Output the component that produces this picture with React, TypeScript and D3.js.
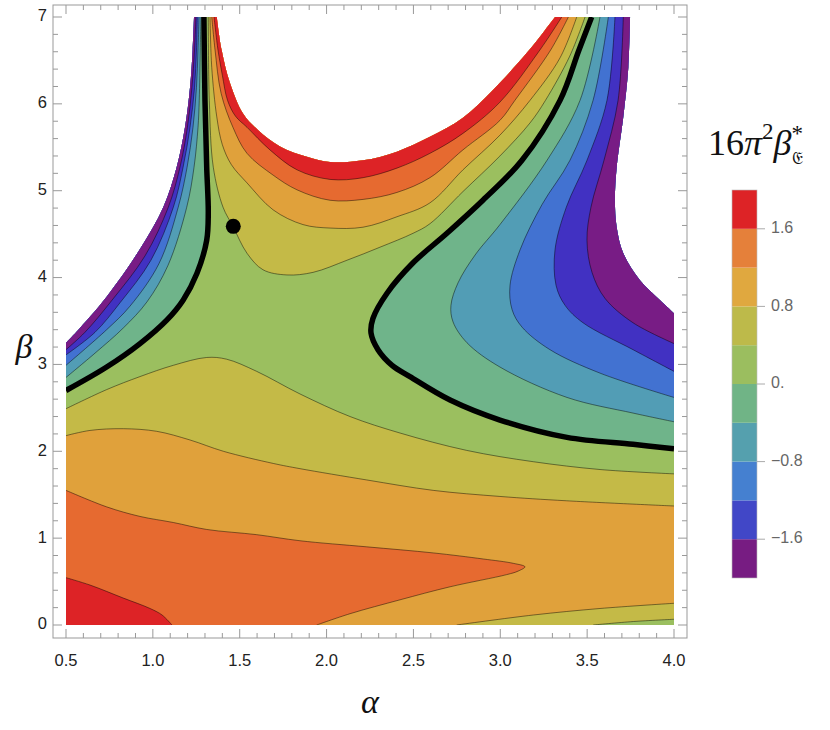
import React from 'react';
import * as d3 from 'd3';

type P = [number, number];

// ---------- axis / legend data ----------
const alphaDomain: P = [0.5, 4.0];
const betaDomain: P = [0, 7];
const alphaTicks = [0.5, 1.0, 1.5, 2.0, 2.5, 3.0, 3.5, 4.0];
const betaTicks = [0, 1, 2, 3, 4, 5, 6, 7];
const legendLevels = [-2.0, 2.0];
const legendTicks = [1.6, 0.8, 0, -0.8, -1.6];
const legendTickLabels = ['1.6', '0.8', '0.', '\u22120.8', '\u22121.6'];
// bands from lowest (-2..-1.6) to highest (1.6..2)
const bandColors = ['#781C85', '#4131C2', '#4272D1', '#529DB5', '#6FB48A', '#9BBF5F', '#C4BA47', '#E0A13B', '#E66A30', '#DD2326'];
const legendColors = ['#771C82', '#4147C7', '#4580D0', '#55A0AE', '#70B486', '#9BBE5F', '#BDBA4A', '#E0A83F', '#E5803A', '#DD2326'];

// ---------- domain boundaries (alpha, beta) ----------
const leftBoundary: P[] = [[0.5, 3.25], [0.562, 3.38], [0.734, 3.78], [0.926, 4.33], [1.06, 4.81], [1.137, 5.27], [1.185, 5.73], [1.214, 6.19], [1.229, 6.62], [1.237, 7.0]];
const topBoundary: P[] = [[1.368, 7.0], [1.396, 6.62], [1.444, 6.24], [1.519, 5.89], [1.605, 5.7], [1.732, 5.51], [1.887, 5.39], [2.02, 5.33], [2.21, 5.35], [2.405, 5.45], [2.595, 5.62], [2.785, 5.84], [2.958, 6.16], [3.154, 6.59], [3.246, 6.82], [3.315, 7.0]];
const rightBoundary: P[] = [[3.747, 7.0], [3.737, 6.42], [3.708, 5.85], [3.67, 5.27], [3.66, 4.89], [3.67, 4.58], [3.708, 4.28], [3.804, 3.97], [3.92, 3.74], [4.0, 3.59]];

// ---------- contour lines ----------
// left strip (from alpha = 0.5 edge up to beta = 7)
const left0: P[] = [[0.5, 2.7], [0.734, 2.97], [0.926, 3.24], [1.08, 3.51], [1.174, 3.74], [1.254, 4.05], [1.31, 4.43], [1.319, 4.74], [1.31, 5.27], [1.3, 6.04], [1.294, 7.0]];
const leftM04: P[] = [[0.5, 2.85], [0.667, 3.13], [0.83, 3.42], [0.966, 3.72], [1.087, 4.14], [1.195, 4.81], [1.237, 5.27], [1.26, 5.73], [1.267, 6.04], [1.273, 6.62], [1.277, 7.0]];
const leftM08: P[] = [[0.5, 2.99], [0.734, 3.4], [0.868, 3.67], [1.035, 4.16], [1.146, 4.81], [1.197, 5.27], [1.231, 5.73], [1.251, 6.19], [1.26, 6.62], [1.266, 7.0]];
const leftM12: P[] = [[0.5, 3.11], [0.667, 3.37], [0.811, 3.71], [0.989, 4.2], [1.118, 4.81], [1.174, 5.27], [1.214, 5.73], [1.24, 6.19], [1.251, 6.62], [1.256, 7.0]];
const leftM16: P[] = [[0.5, 3.17], [0.609, 3.37], [0.765, 3.74], [0.955, 4.25], [1.089, 4.81], [1.156, 5.27], [1.199, 5.73], [1.225, 6.19], [1.24, 6.62], [1.248, 7.0]];
// right lobe (from beta = 7 down to alpha = 4 edge)
const right0: P[] = [[3.526, 7.0], [3.453, 6.62], [3.344, 6.04], [3.125, 5.35], [2.9, 4.89], [2.693, 4.51], [2.498, 4.17], [2.348, 3.82], [2.267, 3.53], [2.256, 3.36], [2.296, 3.17], [2.377, 2.99], [2.48, 2.86], [2.711, 2.59], [2.998, 2.36], [3.384, 2.16], [3.764, 2.08], [4.0, 2.03]];
const rightM04: P[] = [[3.574, 7.0], [3.459, 6.04], [3.269, 5.35], [2.998, 4.61], [2.855, 4.26], [2.757, 3.94], [2.716, 3.68], [2.728, 3.49], [2.808, 3.25], [2.998, 2.97], [3.384, 2.62], [3.764, 2.44], [4.0, 2.34]];
const rightM08: P[] = [[3.622, 7.0], [3.534, 6.04], [3.401, 5.35], [3.24, 4.84], [3.114, 4.32], [3.056, 3.91], [3.068, 3.63], [3.125, 3.43], [3.286, 3.17], [3.574, 2.9], [4.0, 2.62]];
const rightM12: P[] = [[3.66, 7.0], [3.614, 6.04], [3.499, 5.35], [3.38, 4.81], [3.315, 4.32], [3.321, 3.91], [3.373, 3.68], [3.476, 3.48], [3.764, 3.17], [4.0, 2.92]];
const rightM16: P[] = [[3.708, 7.0], [3.678, 6.04], [3.597, 5.35], [3.522, 4.81], [3.499, 4.43], [3.528, 4.06], [3.603, 3.76], [3.764, 3.48], [4.0, 3.24]];
// upper U-shaped contours (left top to right top)
const top04: P[] = [[1.319, 7.0], [1.325, 6.04], [1.348, 5.27], [1.404, 4.81], [1.461, 4.59], [1.542, 4.28], [1.634, 4.09], [1.772, 4.03], [1.922, 4.06], [2.118, 4.2], [2.308, 4.35], [2.498, 4.51], [2.595, 4.62], [2.785, 4.99], [2.998, 5.4], [3.171, 5.78], [3.26, 6.04], [3.4, 6.55], [3.488, 7.0]];
const top08: P[] = [[1.329, 7.0], [1.339, 6.42], [1.368, 5.85], [1.4, 5.53], [1.452, 5.3], [1.542, 5.09], [1.692, 4.78], [1.864, 4.61], [2.02, 4.57], [2.21, 4.58], [2.405, 4.7], [2.595, 4.86], [2.785, 5.24], [2.998, 5.64], [3.171, 6.04], [3.344, 6.53], [3.44, 7.0]];
const top12: P[] = [[1.339, 7.0], [1.358, 6.62], [1.393, 6.12], [1.461, 5.73], [1.542, 5.43], [1.692, 5.18], [1.83, 5.01], [2.02, 4.89], [2.21, 4.9], [2.405, 4.98], [2.595, 5.15], [2.785, 5.47], [2.998, 5.81], [3.084, 6.04], [3.29, 6.62], [3.392, 7.0]];
const top16: P[] = [[1.352, 7.0], [1.375, 6.62], [1.4, 6.33], [1.43, 6.04], [1.475, 5.86], [1.542, 5.73], [1.674, 5.47], [1.83, 5.24], [2.02, 5.13], [2.21, 5.15], [2.405, 5.26], [2.595, 5.43], [2.785, 5.66], [2.998, 6.02], [3.228, 6.62], [3.354, 7.0]];
// lower contours
const mid04: P[] = [[0.5, 2.49], [0.734, 2.71], [0.926, 2.86], [1.118, 2.99], [1.31, 3.08], [1.425, 3.06], [1.598, 2.92], [1.847, 2.66], [2.135, 2.4], [2.423, 2.21], [2.807, 2.01], [3.19, 1.88], [3.574, 1.79], [4.0, 1.74]];
const mid08: P[] = [[0.5, 2.18], [0.638, 2.24], [0.83, 2.26], [1.022, 2.23], [1.214, 2.13], [1.406, 2.0], [1.693, 1.86], [1.847, 1.8], [2.231, 1.67], [2.614, 1.55], [2.998, 1.48], [3.382, 1.43], [4.0, 1.37]];
const tongue12: P[] = [[0.5, 1.55], [0.734, 1.36], [0.926, 1.25], [1.118, 1.18], [1.31, 1.1], [1.598, 1.04], [1.847, 0.97], [2.231, 0.9], [2.614, 0.83], [2.902, 0.76], [3.075, 0.71], [3.142, 0.67], [3.102, 0.62], [3.037, 0.58], [2.711, 0.44], [2.423, 0.29], [2.135, 0.13], [1.943, 0.0]];
const corner16: P[] = [[0.5, 0.545], [0.638, 0.46], [0.83, 0.31], [0.984, 0.19], [1.053, 0.115], [1.11, 0.0]];
const low08: P[] = [[2.749, 0.0], [3.19, 0.115], [3.574, 0.19], [4.0, 0.25]];
const low04: P[] = [[3.535, 0.0], [3.766, 0.04], [4.0, 0.066]];

const marker: P = [1.463, 4.59];

const W = 830, H = 730;
const frame = { left: 53, top: 5, right: 687, bottom: 638 };

export default function App() {
  const x = d3.scaleLinear().domain(alphaDomain).range([66, 674]);
  const y = d3.scaleLinear().domain(betaDomain).range([625, 17]);
  const lg = d3.line<P>().x(d => x(d[0])).y(d => y(d[1])).curve(d3.curveCatmullRom.alpha(0.5));
  const path = (pts: P[]) => lg(pts) as string;
  const seg = (pts: P[]) => 'L' + (lg(pts) as string).slice(1);
  const pt = (p: P) => `L${x(p[0])},${y(p[1])}`;

  const [a0, a1] = alphaDomain;
  const [b0, b1] = betaDomain;

  const domainPath = path(leftBoundary) + seg(topBoundary) + seg(rightBoundary) + pt([a1, b0]) + pt([a0, b0]) + 'Z';

  // regions painted in order
  const regions: { d: string; fill: string }[] = [];
  regions.push({ d: `M${x(a0)},${y(b1)}H${x(a1)}V${y(b0)}H${x(a0)}Z`, fill: bandColors[5] });
  [top04, top08, top12, top16].forEach((l, i) => regions.push({ d: path(l) + 'Z', fill: bandColors[6 + i] }));
  regions.push({ d: path(mid04) + seg([...low04].reverse()) + pt([a0, b0]) + 'Z', fill: bandColors[6] });
  regions.push({ d: path(mid08) + seg([...low08].reverse()) + pt([a0, b0]) + 'Z', fill: bandColors[7] });
  regions.push({ d: path(tongue12) + pt([a0, b0]) + 'Z', fill: bandColors[8] });
  regions.push({ d: path(corner16) + pt([a0, b0]) + 'Z', fill: bandColors[9] });
  [left0, leftM04, leftM08, leftM12, leftM16].forEach((l, i) => regions.push({ d: path(l) + pt([a0, b1]) + 'Z', fill: bandColors[4 - i] }));
  [right0, rightM04, rightM08, rightM12, rightM16].forEach((l, i) => regions.push({ d: path(l) + pt([a1, b1]) + 'Z', fill: bandColors[4 - i] }));

  const thinLines = [leftM04, leftM08, leftM12, leftM16, rightM04, rightM08, rightM12, rightM16, top04, top08, top12, top16, mid04, mid08, tongue12, corner16, low08, low04];
  const zeroLines = [left0, right0];

  const xMinor = d3.range(0.5, 4.0001, 0.1);
  const yMinor = d3.range(0, 7.0001, 0.2);
  const tickColor = '#999';
  const major = 9, minor = 5;

  const lScale = d3.scaleLinear().domain(legendLevels).range([578, 190]);
  const nb = bandColors.length;
  const bandStep = (legendLevels[1] - legendLevels[0]) / nb;

  return (
    <svg width={W} height={H} style={{ position: 'absolute', left: 0, top: 0, background: '#fff' }}>
      <defs>
        <clipPath id="dom"><path d={domainPath} /></clipPath>
      </defs>
      <g clipPath="url(#dom)">
        {regions.map((r, i) => <path key={i} d={r.d} fill={r.fill} stroke="none" />)}
        {thinLines.map((l, i) => <path key={'t' + i} d={path(l)} fill="none" stroke="#000" strokeOpacity={0.45} strokeWidth={1} />)}
        {zeroLines.map((l, i) => <path key={'z' + i} d={path(l)} fill="none" stroke="#000" strokeWidth={5.5} />)}
      </g>
      <circle cx={x(marker[0])} cy={y(marker[1])} r={7.5} fill="#000" />

      {/* frame */}
      <rect x={frame.left} y={frame.top} width={frame.right - frame.left} height={frame.bottom - frame.top} fill="none" stroke={tickColor} strokeWidth={1} />
      {xMinor.map((v, i) => {
        const isMajor = alphaTicks.some(t => Math.abs(t - v) < 1e-6);
        const len = isMajor ? major : minor;
        return (
          <g key={'xm' + i} stroke={tickColor} strokeWidth={1}>
            <line x1={x(v)} x2={x(v)} y1={frame.bottom} y2={frame.bottom - len} />
            <line x1={x(v)} x2={x(v)} y1={frame.top} y2={frame.top + len} />
          </g>
        );
      })}
      {yMinor.map((v, i) => {
        const isMajor = betaTicks.some(t => Math.abs(t - v) < 1e-6);
        const len = isMajor ? major : minor;
        return (
          <g key={'ym' + i} stroke={tickColor} strokeWidth={1}>
            <line x1={frame.left} x2={frame.left + len} y1={y(v)} y2={y(v)} />
            <line x1={frame.right} x2={frame.right - len} y1={y(v)} y2={y(v)} />
          </g>
        );
      })}
      {alphaTicks.map((v, i) => (
        <text key={'xl' + i} x={x(v)} y={662} textAnchor="middle" dominantBaseline="middle" fontFamily="'Liberation Sans', Arial, sans-serif" fontSize={16.5} fill="#222">{d3.format('.1f')(v)}</text>
      ))}
      {betaTicks.map((v, i) => (
        <text key={'yl' + i} x={47} y={y(v)} textAnchor="end" dominantBaseline="middle" fontFamily="'Liberation Sans', Arial, sans-serif" fontSize={16.5} fill="#222">{String(v)}</text>
      ))}
      <text x={370} y={713} textAnchor="middle" fontFamily="'Liberation Serif', 'Times New Roman', serif" fontStyle="italic" fontSize={34} fill="#111">α</text>
      <text x={24} y={358} textAnchor="middle" fontFamily="'Liberation Serif', 'Times New Roman', serif" fontStyle="italic" fontSize={34} fill="#111">β</text>

      {/* legend */}
      {legendColors.map((c, i) => {
        const lo = legendLevels[0] + i * bandStep;
        const hi = lo + bandStep;
        return <rect key={'lb' + i} x={732} y={lScale(hi)} width={25} height={lScale(lo) - lScale(hi)} fill={c} />;
      })}
      <rect x={732} y={lScale(legendLevels[1])} width={25} height={lScale(legendLevels[0]) - lScale(legendLevels[1])} fill="none" stroke="#bbb" strokeWidth={0.6} />
      {legendTicks.map((v, i) => (
        <g key={'lt' + i}>
          <line x1={757} x2={765} y1={lScale(v)} y2={lScale(v)} stroke="#aaa" />
          <text x={771} y={lScale(v)} dominantBaseline="middle" fontFamily="'Liberation Sans', Arial, sans-serif" fontSize={16} fill="#666">{legendTickLabels[i]}</text>
        </g>
      ))}
      <text x={708} y={155} fontFamily="'Liberation Serif', 'Times New Roman', serif" fontSize={36} fill="#111">
        <tspan>16</tspan>
        <tspan fontStyle="italic">π</tspan>
        <tspan fontSize={23} dy={-16}>2</tspan>
        <tspan fontStyle="italic" fontSize={36} dy={16}>β</tspan>
        <tspan fontSize={23} dy={-14}>*</tspan>
        <tspan fontSize={18} dx={-11} dy={23} fontFamily="'DejaVu Serif', 'DejaVu Sans', serif">𝔈</tspan>
      </text>
    </svg>
  );
}
